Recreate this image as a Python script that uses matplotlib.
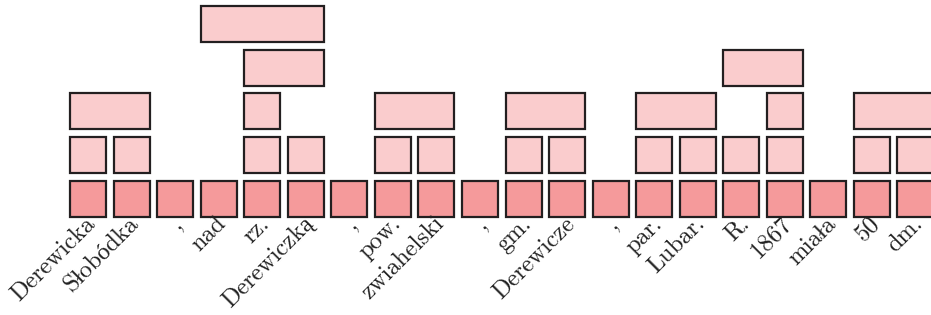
import matplotlib.pyplot as plt
from matplotlib.patches import Rectangle

# tokens along the bottom row
tokens = ['Derewicka', 'Słobódka', ',', 'nad', 'rz.', 'Derewiczką', ',', 'pow.',
          'zwiahelski', ',', 'gm.', 'Derewicze', ',', 'par.', 'Lubar.', 'R.',
          '1867', 'miała', '50', 'dm.']

# spans (first token, last token) for each upper level
level1 = [(0, 0), (1, 1), (4, 4), (5, 5), (7, 7), (8, 8), (10, 10), (11, 11),
          (13, 13), (14, 14), (15, 15), (16, 16), (18, 18), (19, 19)]
level2 = [(0, 1), (4, 4), (7, 8), (10, 11), (13, 14), (16, 16), (18, 19)]
level3 = [(4, 5), (15, 16)]
level4 = [(3, 5)]
levels = [level1, level2, level3, level4]

BASE_COLOR = '#f59a9b'
SPAN_COLOR = '#facccd'
EDGE = '#231f20'

plt.rcParams['font.family'] = ['cmr10', 'Liberation Serif', 'DejaVu Serif']

fig = plt.figure(figsize=(9.31, 3.15), dpi=100)
ax = fig.add_axes([0, 0, 1, 1])
pitch = 43.55
w = 36 / pitch
ax.set_xlim(-88 / pitch, (931 - 88) / pitch)
ax.set_ylim(-(315 - 198.5) / pitch, 198.5 / pitch)
ax.axis('off')

for i, tok in enumerate(tokens):
    ax.add_patch(Rectangle((i - w / 2, -w / 2), w, w, facecolor=BASE_COLOR,
                           edgecolor=EDGE, linewidth=1.6))
    ax.text(i - 0.08, -w / 2 + 0.09, tok, rotation=45, rotation_mode='anchor',
            ha='right', va='top', fontsize=17.5, color='#222222')

for r, spans in enumerate(levels, start=1):
    for a, b in spans:
        ax.add_patch(Rectangle((a - w / 2, r - w / 2), b - a + w, w,
                               facecolor=SPAN_COLOR, edgecolor=EDGE, linewidth=1.6))

fig.savefig('out.png', dpi=100)
